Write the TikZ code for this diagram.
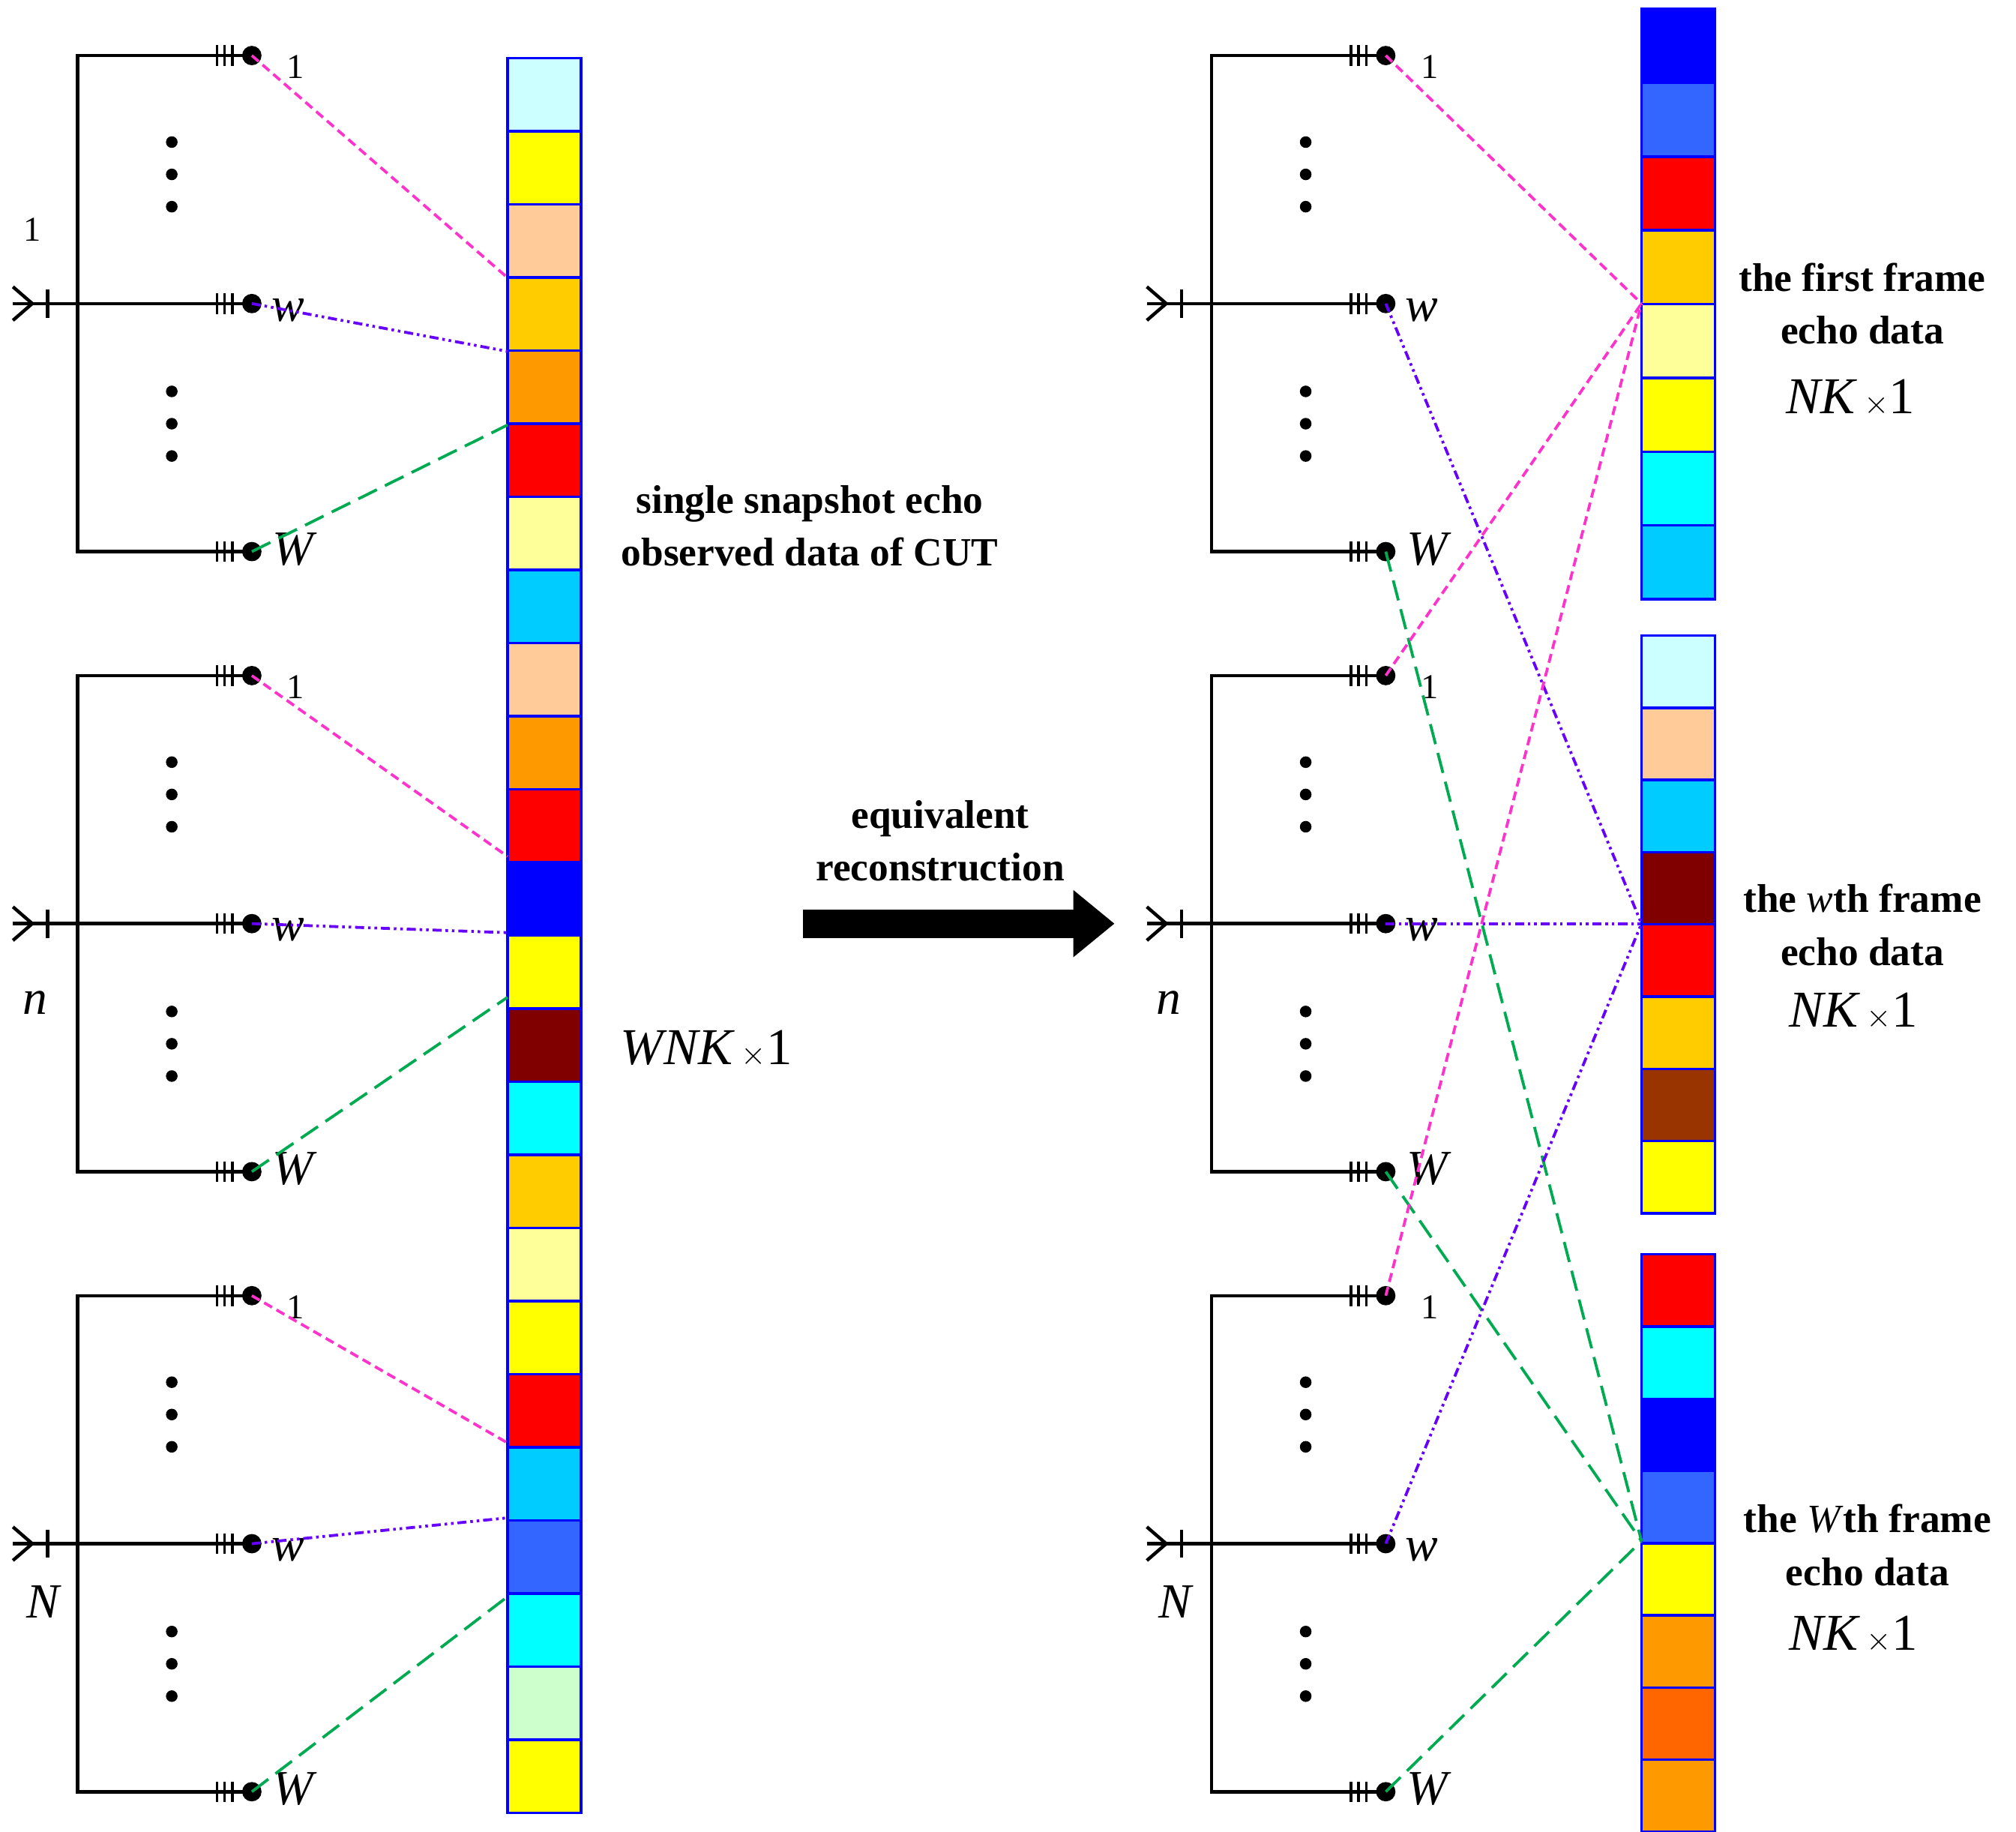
\documentclass[tikz,border=0pt]{standalone}
\usepackage{fontspec}
\setmainfont{Liberation Serif}
\usetikzlibrary{arrows.meta}
\begin{document}
\begin{tikzpicture}[x=1pt,y=-1pt,
  wire/.style={line width=2.6pt,black},
  ant/.style={circle,fill=black,inner sep=0pt,minimum size=15pt},
  sdot/.style={circle,fill=black,inner sep=0pt,minimum size=9pt},
  lbl/.style={font=\fontsize{38}{40}\selectfont},
  one/.style={font=\fontsize{27}{29}\selectfont},
  mth/.style={font=\fontsize{40}{42}\selectfont},
  ttl/.style={font=\fontsize{31}{41}\selectfont\bfseries,align=center},
  cell/.style={draw=blue,line width=2pt},
  pk/.style={draw={rgb,255:red,255;green,51;blue,204},line width=2.2pt,dash pattern=on 7pt off 4pt},
  pu/.style={draw={rgb,255:red,102;green,0;blue,255},line width=2.2pt,dash pattern=on 7pt off 3pt on 2pt off 3pt on 2pt off 3pt},
  gr/.style={draw={rgb,255:red,0;green,170;blue,80},line width=2.2pt,dash pattern=on 16pt off 7pt}]
\useasboundingbox (0,0) rectangle (1561,1418);
\definecolor{lc}{HTML}{CCFFFF}\definecolor{ye}{HTML}{FFFF00}\definecolor{pe}{HTML}{FFCC99}
\definecolor{go}{HTML}{FFCC00}\definecolor{or}{HTML}{FF9900}\definecolor{re}{HTML}{FF0000}
\definecolor{ly}{HTML}{FFFF99}\definecolor{ds}{HTML}{00CCFF}\definecolor{bl}{HTML}{0000FF}
\definecolor{ma}{HTML}{800000}\definecolor{cy}{HTML}{00FFFF}\definecolor{mb}{HTML}{3366FF}
\definecolor{lg}{HTML}{CCFFCC}\definecolor{br}{HTML}{993300}\definecolor{dor}{HTML}{FF6600}
% left bar
\foreach \c [count=\i from 0] in {lc,ye,pe,go,or,re,ly,ds,pe,or,re,bl,ye,ma,cy,go,ly,ye,re,ds,mb,cy,lg,ye}
  \path[cell,fill=\c] (393,{45+\i*56.6}) rectangle (450,{45+(\i+1)*56.6});
% right bars
\foreach \c [count=\i from 0] in {bl,mb,re,go,ly,ye,cy,ds}
  \path[cell,fill=\c] (1271,{7+\i*57.1}) rectangle (1328,{7+(\i+1)*57.1});
\foreach \c [count=\i from 0] in {lc,pe,ds,ma,re,go,br,ye}
  \path[cell,fill=\c] (1271,{492+\i*55.9}) rectangle (1328,{492+(\i+1)*55.9});
\foreach \c [count=\i from 0] in {re,cy,bl,mb,ye,or,dor,or}
  \path[cell,fill=\c] (1271,{971+\i*55.9}) rectangle (1328,{971+(\i+1)*55.9});
% antenna groups
\foreach \s/\ox/\oy in {La/0/0,Lb/0/480,Lc/0/960,Ra/878/0,Rb/878/480,Rc/878/960}{
  \begin{scope}[shift={(\ox,\oy)}]
    \node[ant] (\s1) at (195,43) {};
    \node[ant] (\s w) at (195,235) {};
    \node[ant] (\s W) at (195,427) {};
    \coordinate (\s in) at (10,235);
    \draw[wire] (\s1.center) -- (60,43) -- (60,427) -- (\s W.center);
    \draw[wire] (\s w.center) -- (\s in);
    \draw[wire] (10,222) -- (25,235) -- (10,248);
    \draw[wire] (37,224) -- (37,246);
    \foreach \yy in {43,235,427}
      \foreach \xx in {168,174,180} \draw[line width=2pt] (\xx,\yy-8) -- (\xx,\yy+8);
    \foreach \yy in {110,135,160,303,328,353} \node[sdot] (\s d\yy) at (133,\yy) {};
    \node[one] (\s l1) at (229,52) {1};
    \node[lbl] (\s lw) at (223,240) {\itshape w};
    \node[lbl] (\s lW) at (227,425) {\itshape W};
  \end{scope}}
\node[one] (g1) at (25,178) {1};
\node[lbl] (gn) at (27,776) {\itshape n};
\node[lbl] (gN) at (33,1240) {\itshape N};
\node[lbl] (gn2) at (905,776) {\itshape n};
\node[lbl] (gN2) at (910,1240) {\itshape N};
% left connectors
\coordinate (p1) at (393,215);\coordinate (p2) at (393,272);\coordinate (p3) at (393,329);
\coordinate (p4) at (393,663);\coordinate (p5) at (393,722);\coordinate (p6) at (393,772);
\coordinate (p7) at (393,1117);\coordinate (p8) at (393,1175);\coordinate (p9) at (393,1236);
\draw[pk] (La1.center) -- (p1); \draw[pu] (Law.center) -- (p2); \draw[gr] (LaW.center) -- (p3);
\draw[pk] (Lb1.center) -- (p4); \draw[pu] (Lbw.center) -- (p5); \draw[gr] (LbW.center) -- (p6);
\draw[pk] (Lc1.center) -- (p7); \draw[pu] (Lcw.center) -- (p8); \draw[gr] (LcW.center) -- (p9);
% right connectors
\coordinate (f1) at (1271,235);\coordinate (f2) at (1271,715);\coordinate (f3) at (1271,1193);
\foreach \s in {Ra,Rb,Rc}{
  \draw[pk] (\s1.center) -- (f1);
  \draw[pu] (\s w.center) -- (f2);
  \draw[gr] (\s W.center) -- (f3);}
% arrow
\coordinate (a0) at (622,715); \coordinate (a1) at (863,715);
\draw[line width=22pt,-{Triangle[length=32pt,width=50pt]}] (a0) -- (a1);
% texts
\node[ttl] (t1) at (627,407) {single snapshot echo\\observed data of CUT};
\node[ttl] (t2) at (728,651) {equivalent\\reconstruction};
\node[mth] (t3) at (547,812) {\itshape WNK\,\upshape$\times$1};
\node[ttl] (t4) at (1442,235) {the first frame\\echo data};
\node[mth] (t5) at (1433,308) {\itshape NK\,\upshape$\times$1};
\node[ttl] (t6) at (1442,716) {the \textit{\mdseries w}th frame\\echo data};
\node[mth] (t7) at (1435,783) {\itshape NK\,\upshape$\times$1};
\node[ttl] (t8) at (1446,1196) {the \textit{\mdseries W}th frame\\echo data};
\node[mth] (t9) at (1435,1265) {\itshape NK\,\upshape$\times$1};
\end{tikzpicture}
\end{document}
